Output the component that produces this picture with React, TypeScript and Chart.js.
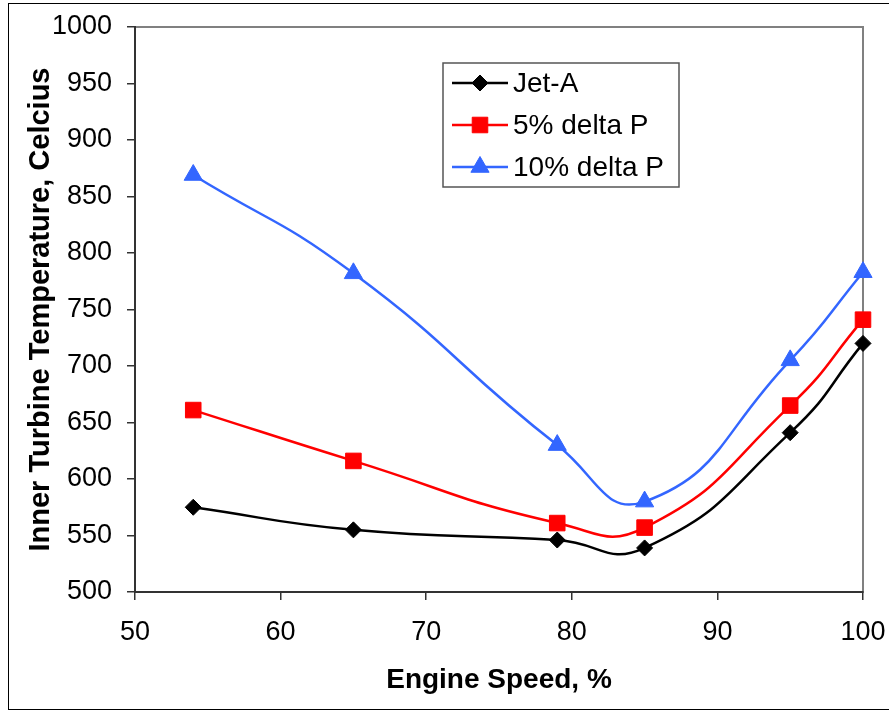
import React, { useEffect, useRef } from "react";
import { Chart, registerables } from "chart.js";
import { drawPoint } from "chart.js/helpers";

Chart.register(...registerables);

const engineSpeed = [54, 65, 79, 85, 95, 100];
const jetA = [575, 555, 546, 539, 641, 720];
const delta5 = [661, 616, 561, 557, 665, 741];
const delta10 = [869, 782, 630, 580, 705, 783];
const seriesNames = ["Jet-A", "5% delta P", "10% delta P"];
const xTitle = "Engine Speed, %";
const yTitle = "Inner Turbine Temperature, Celcius";

const FONT = '"Liberation Sans", Arial, Helvetica, sans-serif';

const framePlugin = {
  id: "frame",
  beforeDraw(chart: any) {
    const ctx = chart.ctx;
    const a = chart.chartArea;
    ctx.save();
    ctx.fillStyle = "#ffffff";
    ctx.fillRect(0, 0, chart.width, chart.height);
    ctx.strokeStyle = "#000000";
    ctx.lineWidth = 1;
    ctx.strokeRect(8.5, 3.5, chart.width + 10, 706);
    ctx.strokeStyle = "#808080";
    ctx.lineWidth = 2;
    ctx.strokeRect(a.left, a.top, a.right - a.left, a.bottom - a.top);
    ctx.restore();
  },
};

const legendPlugin = {
  id: "boxLegend",
  afterDraw(chart: any) {
    const ctx = chart.ctx;
    const bx = 443, by = 63, bw = 236, bh = 124;
    ctx.save();
    ctx.fillStyle = "#ffffff";
    ctx.fillRect(bx, by, bw, bh);
    ctx.strokeStyle = "#555555";
    ctx.lineWidth = 1.5;
    ctx.strokeRect(bx, by, bw, bh);
    const rows = [83, 125, 167];
    chart.data.datasets.forEach((ds: any, i: number) => {
      const y = rows[i];
      ctx.strokeStyle = ds.borderColor;
      ctx.lineWidth = ds.borderWidth;
      ctx.beginPath();
      ctx.moveTo(452, y);
      ctx.lineTo(508, y);
      ctx.stroke();
      ctx.fillStyle = ds.pointBackgroundColor;
      ctx.strokeStyle = ds.pointBorderColor;
      ctx.lineWidth = 1;
      drawPoint(ctx, { pointStyle: ds.pointStyle, rotation: 0, radius: ds.pointRadius, borderWidth: 1 }, 480, y);
      ctx.fillStyle = "#000000";
      ctx.font = `28px ${FONT}`;
      ctx.textAlign = "left";
      ctx.textBaseline = "middle";
      ctx.fillText(ds.label, 513, y + 1);
    });
    ctx.restore();
  },
};

function pts(values: number[]) {
  return engineSpeed.map((x, i) => ({ x, y: values[i] }));
}

export default function App() {
  const ref = useRef<HTMLCanvasElement | null>(null);
  useEffect(() => {
    if (!ref.current) return;
    const mk = (label: string, values: number[], color: string, style: string, r: number) => ({
      label,
      data: pts(values),
      borderColor: color,
      backgroundColor: color,
      pointBackgroundColor: color,
      pointBorderColor: color,
      pointBorderWidth: 1,
      pointStyle: style,
      pointRadius: r,
      pointHoverRadius: r,
      borderWidth: 2.5,
      tension: 0.5,
      fill: false,
      clip: false,
    });
    const chart = new Chart(ref.current, {
      type: "line",
      data: {
        datasets: [
          mk(seriesNames[0], jetA, "#000000", "rectRot", 8),
          mk(seriesNames[1], delta5, "#ff0000", "rect", 11),
          mk(seriesNames[2], delta10, "#3366ff", "triangle", 10.5),
        ] as any,
      },
      options: {
        responsive: false,
        animation: false,
        events: [],
        layout: { padding: { left: 0, right: 26, top: 27, bottom: 0 } },
        plugins: { legend: { display: false }, tooltip: { enabled: false }, title: { display: false } },
        scales: {
          x: {
            type: "linear",
            min: 50,
            max: 100,
            afterFit: (s: any) => { s.height = 119; s.paddingLeft = 0; s.paddingRight = 0; },
            ticks: { stepSize: 10, color: "#000", font: { family: FONT, size: 27 }, padding: 16, maxRotation: 0, callback: (v: any) => String(v) },
            grid: { drawOnChartArea: false, tickLength: 8, color: "#333", lineWidth: 1.5 },
            border: { color: "#333", width: 2 },
            title: { display: true, text: xTitle, color: "#000", font: { family: FONT, size: 28, weight: "bold" }, padding: { top: 0, bottom: 14 } },
          },
          y: {
            type: "linear",
            min: 500,
            max: 1000,
            afterFit: (s: any) => { s.width = 135; s.paddingTop = 0; s.paddingBottom = 0; },
            ticks: { stepSize: 50, color: "#000", font: { family: FONT, size: 27 }, padding: 15, callback: (v: any) => String(v) },
            grid: { drawOnChartArea: false, tickLength: 8, color: "#333", lineWidth: 1.5 },
            border: { color: "#333", width: 2 },
            title: { display: true, text: yTitle, color: "#000", font: { family: FONT, size: 29, weight: "bold" }, padding: { top: 24, bottom: 0 } },
          },
        },
      } as any,
      plugins: [framePlugin, legendPlugin],
    });
    return () => chart.destroy();
  }, []);
  return (
    <div style={{ position: "fixed", left: 0, top: 0, width: 889, height: 711, background: "#fff" }}>
      <canvas ref={ref} width={889} height={711} style={{ display: "block", width: 889, height: 711 }} />
    </div>
  );
}
